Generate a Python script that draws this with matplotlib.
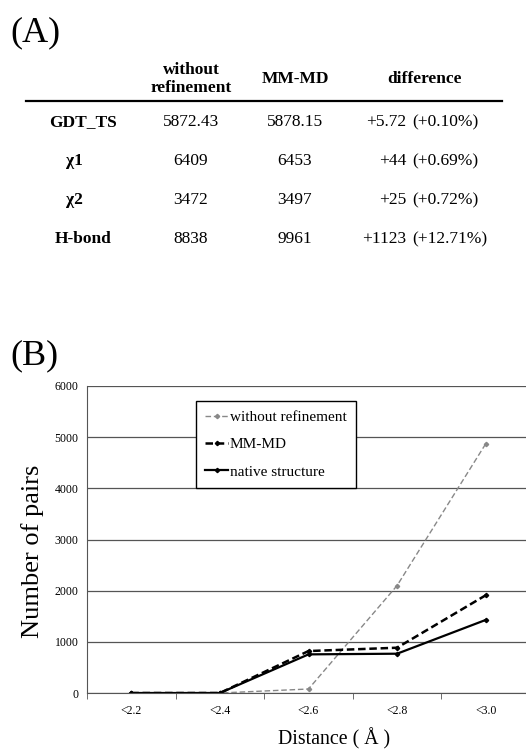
import matplotlib
matplotlib.use("Agg")
import matplotlib.pyplot as plt
from matplotlib.lines import Line2D

plt.rcParams['font.family'] = ['Liberation Serif', 'DejaVu Serif']

# ---- data (A) table ----
col_headers = ['without\nrefinement', 'MM-MD', 'difference']
row_labels = ['GDT_TS', 'χ1', 'χ2', 'H-bond']
no_refine = ['5872.43', '6409', '3472', '8838']
mm_md = ['5878.15', '6453', '3497', '9961']
diff_abs = ['+5.72', '+44', '+25', '+1123']
diff_pct = ['(+0.10%)', '(+0.69%)', '(+0.72%)', '(+12.71%)']

# ---- data (B) chart ----
distances = ['<2.2', '<2.4', '<2.6', '<2.8', '<3.0']
without_refinement = [0, 0, 78, 2100, 4870]
mm_md_pairs = [0, 0, 820, 885, 1910]
native_pairs = [0, 0, 755, 768, 1428]

W, H = 526, 749
fig = plt.figure(figsize=(W / 100, H / 100), dpi=100)

def fx(px):
    return px / W

def fy(py):
    return 1 - py / H

# panel letters
fig.text(fx(10), fy(33), '(A)', fontsize=26, va='center', ha='left')
fig.text(fx(10), fy(356), '(B)', fontsize=26, va='center', ha='left')

# table header
fig.text(fx(191), fy(79), col_headers[0], fontsize=12.5, weight='bold',
         ha='center', va='center', linespacing=1.2)
fig.text(fx(295), fy(79), col_headers[1], fontsize=12.5, weight='bold',
         ha='center', va='center')
fig.text(fx(424), fy(79), col_headers[2], fontsize=12.5, weight='bold',
         ha='center', va='center')
fig.add_artist(Line2D([fx(26), fx(502)], [fy(101), fy(101)],
                      color='black', lw=1.6))

row_y = [122, 161, 200, 239]
label_x = [83, 74, 74, 83]
for i in range(len(row_labels)):
    y = fy(row_y[i])
    fig.text(fx(label_x[i]), y, row_labels[i], fontsize=12.5, weight='bold',
             ha='center', va='center')
    fig.text(fx(191), y, no_refine[i], fontsize=12.5, ha='center', va='center')
    fig.text(fx(295), y, mm_md[i], fontsize=12.5, ha='center', va='center')
    fig.text(fx(406), y, diff_abs[i], fontsize=12.5, ha='right', va='center')
    fig.text(fx(412), y, diff_pct[i], fontsize=12.5, ha='left', va='center')

# chart
ax = fig.add_axes([fx(87), fy(693), (530 - 87) / W, (693 - 386) / H])
x = list(range(len(distances)))
ax.plot(x, without_refinement, color='#888888', lw=1.0, ls=(0, (4, 2)),
        marker='D', ms=2.2, label='without refinement')
ax.plot(x, mm_md_pairs, color='black', lw=1.8, ls=(0, (3, 1.5)),
        marker='D', ms=2.2, label='MM-MD')
ax.plot(x, native_pairs, color='black', lw=1.6, ls='-',
        marker='D', ms=2.2, label='native structure')

ax.set_xlim(-0.5, len(distances) - 0.5)
ax.set_ylim(0, 6000)
ax.set_yticks(range(0, 6001, 1000))
ax.tick_params(axis='y', length=0, labelsize=8.5, pad=6)
ax.set_xticks(x)
ax.set_xticklabels(distances)
ax.set_xticks([i - 0.5 for i in range(len(distances) + 1)], minor=True)
ax.tick_params(axis='x', which='major', length=0, labelsize=8.5, pad=9)
ax.tick_params(axis='x', which='minor', length=4, direction='out',
               color='#555555')
ax.grid(axis='y', color='#555555', lw=0.9)
ax.set_axisbelow(True)
for s in ['top', 'right']:
    ax.spines[s].set_visible(False)
ax.spines['left'].set_color('#555555')
ax.spines['bottom'].set_color('#555555')

ax.set_ylabel('Number of pairs', fontsize=19)
ax.yaxis.set_label_coords(-0.098, 0.46)
ax.set_xlabel('Distance ( Å )', fontsize=14.3)
ax.xaxis.set_label_coords(0.557, -0.115)

leg = ax.legend(loc='upper left', bbox_to_anchor=(0.246, 0.951),
                borderaxespad=0, fontsize=11, frameon=True, fancybox=False,
                edgecolor='black', framealpha=1, handlelength=1.5,
                handletextpad=0.1, labelspacing=0.9, borderpad=0.6)
leg.get_frame().set_linewidth(1.0)

fig.savefig('out.png', dpi=100)
